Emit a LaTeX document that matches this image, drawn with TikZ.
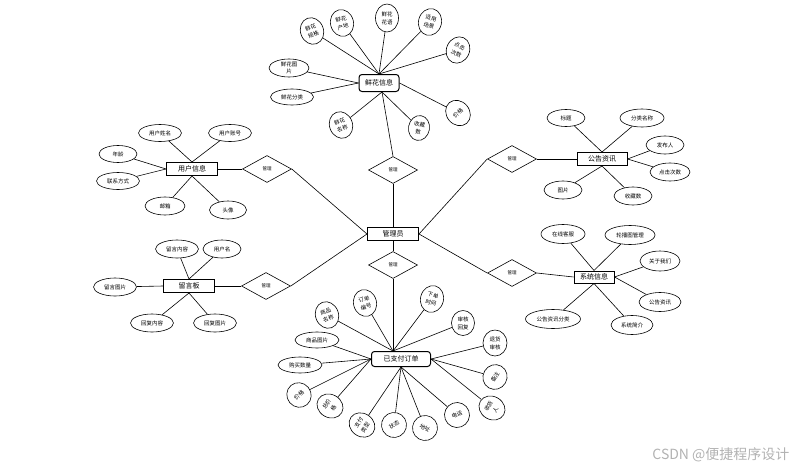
\documentclass[tikz,border=0pt]{standalone}
\usepackage{fontspec}
\newfontfamily\cjk{Noto Sans CJK SC}
\usetikzlibrary{shapes.geometric}
\tikzset{
  % entity boxes
  ent/.style={rectangle,draw,line width=1pt,inner sep=0pt,minimum width=51pt,minimum height=13pt,font=\cjk\fontsize{7}{8}\selectfont},
  entr/.style={ent,rounded corners=3pt},
  % relation diamonds
  rel/.style={diamond,draw,line width=0.6pt,inner sep=0pt,minimum width=49pt,minimum height=27pt,font=\cjk\fontsize{4.5}{5}\selectfont},
  % attributes
  att/.style={ellipse,draw,line width=0.6pt,inner sep=0pt,minimum width=43pt,minimum height=18pt,font=\cjk\fontsize{5.5}{6}\selectfont},
  attc/.style={att,align=center,minimum width=23pt,minimum height=27pt,font=\cjk\fontsize{5.5}{8}\selectfont},
  lnk/.style={line width=0.6pt},
}

\begin{document}
\begin{tikzpicture}[x=1pt,y=-1pt]
\useasboundingbox (0,0) rectangle (806,471);

%% ===== 管理员 + relations =====
\node[ent] (mgr) at (393,234) {管理员};
\node[rel] (rxh) at (393,170) {管理};
\node[rel] (rdd) at (393,265) {管理};
\node[rel] (ryh) at (267,169) {管理};
\node[rel] (rly) at (266,286) {管理};
\node[rel] (rgg) at (512,159) {管理};
\node[rel] (rxt) at (512,273) {管理};

\draw[lnk] (mgr.north) -- (rxh.south);
\draw[lnk] (mgr.south) -- (rdd.north);
\draw[lnk] (mgr.west) -- (ryh.east);
\draw[lnk] (mgr.west) -- (rly.east);
\draw[lnk] (mgr.east) -- (rgg.west);
\draw[lnk] (mgr.east) -- (rxt.west);

%% ===== 鲜花信息 =====
\node[entr,minimum width=40pt,minimum height=17pt] (xh) at (379,83) {鲜花信息};
\node[attc,rotate=20]  (xh1) at (312,31) {鲜花\\规格};
\node[attc,rotate=15]  (xh2) at (342,23) {鲜花\\产地};
\node[attc,minimum height=28pt] (xh3) at (387,18) {鲜花\\花语};
\node[attc,rotate=-15] (xh4) at (430,22) {适用\\场景};
\node[attc,rotate=-25] (xh5) at (458,50) {点击\\次数};
\node[attc,rotate=40]  (xh6) at (458,113) {价格};
\node[attc,rotate=-10,minimum width=21pt,minimum height=25pt] (xh7) at (419,128) {收藏\\数};
\node[attc,rotate=20]  (xh8) at (341,125) {鲜花\\名称};
\node[att,align=center,minimum width=40pt,font=\cjk\fontsize{5.5}{7.5}\selectfont] (xh9) at (289,68) {鲜花图\\片};
\node[att,minimum height=16pt] (xh10) at (292,97) {鲜花分类};

\draw[lnk] (xh.north) -- (xh1);
\draw[lnk] (xh.north) -- (xh2);
\draw[lnk] (xh.north) -- (xh3);
\draw[lnk] (xh.north) -- (xh4);
\draw[lnk] (xh.north) -- (xh5);
\draw[lnk] (xh.east) -- (xh6);
\draw[lnk] ([xshift=3pt]xh.south) -- (xh7);
\draw[lnk] ([xshift=3pt]xh.south) -- (xh8);
\draw[lnk] (xh.west) -- (xh9);
\draw[lnk] (xh.west) -- (xh10);
\draw[lnk] ([xshift=3pt]xh.south) -- (rxh.north);

%% ===== 用户信息 =====
\node[ent] (yh) at (192,169) {用户信息};
\node[att,minimum height=17pt] (yh1) at (160,133) {用户姓名};
\node[att,minimum height=17pt] (yh2) at (230,133) {用户账号};
\node[att,minimum width=38pt,minimum height=17pt] (yh3) at (118,154) {年龄};
\node[att,minimum height=17pt] (yh4) at (118,181) {联系方式};
\node[att,minimum width=40pt] (yh5) at (165,206) {邮箱};
\node[att,minimum width=37pt] (yh6) at (228,210) {头像};

\draw[lnk] (yh.north) -- (yh1);
\draw[lnk] (yh.north) -- (yh2);
\draw[lnk] (yh.west) -- (yh3);
\draw[lnk] (yh.west) -- (yh4);
\draw[lnk] (yh.south) -- (yh5);
\draw[lnk] (yh.south) -- (yh6);
\draw[lnk] (yh.east) -- (ryh.west);

%% ===== 留言板 =====
\node[ent] (ly) at (189,286) {留言板};
\node[att] (ly1) at (177,249) {留言内容};
\node[att,minimum width=38pt] (ly2) at (222,249) {用户名};
\node[att] (ly3) at (115,287) {留言图片};
\node[att] (ly4) at (152,323) {回复内容};
\node[att] (ly5) at (215,323) {回复图片};

\draw[lnk] (ly.north) -- (ly1);
\draw[lnk] (ly.north) -- (ly2);
\draw[lnk] (ly.west) -- (ly3);
\draw[lnk] (ly.south) -- (ly4);
\draw[lnk] (ly.south) -- (ly5);
\draw[lnk] (ly.east) -- (rly.west);

%% ===== 公告资讯 =====
\node[ent,minimum width=50pt] (gg) at (602,159) {公告资讯};
\node[att,minimum width=38pt,minimum height=17pt] (gg1) at (566,118) {标题};
\node[att,minimum width=44pt] (gg2) at (642,118) {分类名称};
\node[att,minimum width=38pt] (gg3) at (665,145) {发布人};
\node[att,minimum width=40pt] (gg4) at (670,172) {点击次数};
\node[att,minimum width=38pt] (gg5) at (563,190) {图片};
\node[att,minimum width=38pt] (gg6) at (633,196) {收藏数};

\draw[lnk] (gg.north) -- (gg1);
\draw[lnk] (gg.north) -- (gg2);
\draw[lnk] (gg.east) -- (gg3);
\draw[lnk] (gg.east) -- (gg4);
\draw[lnk] (gg.south) -- (gg5);
\draw[lnk] (gg.south) -- (gg6);
\draw[lnk] (rgg.east) -- (gg.west);

%% ===== 系统信息 =====
\node[ent,minimum width=40pt,minimum height=12pt] (xt) at (594,277) {系统信息};
\node[att,minimum width=44pt,minimum height=19pt] (xt1) at (563,234) {在线客服};
\node[att,minimum width=50pt,minimum height=19pt] (xt2) at (630,235) {轮播图管理};
\node[att,minimum width=40pt,minimum height=20pt] (xt3) at (660,261) {关于我们};
\node[att,minimum width=42pt,minimum height=19pt] (xt4) at (660,302) {公告资讯};
\node[att,minimum width=55pt,minimum height=19pt] (xt5) at (553,319) {公告资讯分类};
\node[att,minimum width=42pt,minimum height=19pt] (xt6) at (632,325) {系统简介};

\draw[lnk] (xt.north) -- (xt1);
\draw[lnk] (xt.north) -- (xt2);
\draw[lnk] (xt.east) -- (xt3);
\draw[lnk] (xt.east) -- (xt4);
\draw[lnk] (xt.south) -- (xt5);
\draw[lnk] (xt.south) -- (xt6);
\draw[lnk] (rxt.east) -- (xt.west);

%% ===== 已支付订单 =====
\node[entr,minimum width=59pt,minimum height=15pt] (dd) at (401,359) {已支付订单};
\coordinate (ddt) at (393,351);
\node[attc,rotate=20]  (dd1) at (327,315) {商品\\名称};
\node[attc,rotate=15]  (dd2) at (365,303) {订单\\编号};
\node[attc,rotate=-15] (dd3) at (432,299) {下单\\时间};
\node[attc,minimum height=25pt] (dd4) at (463,323) {审核\\回复};
\node[attc,minimum width=24pt,minimum height=26pt] (dd5) at (495,343) {退货\\审核};
\node[attc,rotate=60,minimum width=25pt,minimum height=24pt] (dd6) at (495,377) {备注};
\node[attc,rotate=60]  (dd7) at (492,408) {收货\\人};
\node[attc,rotate=20,minimum width=25pt,minimum height=25pt] (dd8) at (457,415) {电话};
\node[attc,rotate=-30,minimum width=25pt,minimum height=25pt] (dd9) at (425,428) {地址};
\node[attc,rotate=30,minimum width=25pt,minimum height=25pt] (dd10) at (394,425) {状态};
\node[attc,rotate=55]  (dd11) at (362,425) {支付\\类型};
\node[attc,rotate=60]  (dd12) at (330,406) {总价\\格};
\node[attc,rotate=40,minimum width=24pt,minimum height=25pt] (dd13) at (299,395) {价格};
\node[att,minimum width=44pt,minimum height=16pt] (dd14) at (300,365) {购买数量};
\node[att,minimum width=44pt,minimum height=16pt] (dd15) at (317,340) {商品图片};

\draw[lnk] (ddt) -- (dd1);
\draw[lnk] (ddt) -- (dd2);
\draw[lnk] (ddt) -- (dd3);
\draw[lnk] (ddt) -- (dd4);
\draw[lnk] (dd.east) -- (dd5);
\draw[lnk] (dd.east) -- (dd6);
\draw[lnk] (dd.east) -- (dd7);
\draw[lnk] (dd.south) -- (dd8);
\draw[lnk] (dd.south) -- (dd9);
\draw[lnk] (dd.south) -- (dd10);
\draw[lnk] (dd.south) -- (dd11);
\draw[lnk] (dd.west) -- (dd12);
\draw[lnk] (dd.west) -- (dd13);
\draw[lnk] (dd.west) -- (dd14);
\draw[lnk] (dd.west) -- (dd15);
\draw[lnk] (rdd.south) -- (ddt);

%% watermark
\node[anchor=east,gray!60,font=\cjk\fontsize{14}{15}\selectfont] (wm) at (793,455) {CSDN @便捷程序设计};
\end{tikzpicture}
\end{document}
